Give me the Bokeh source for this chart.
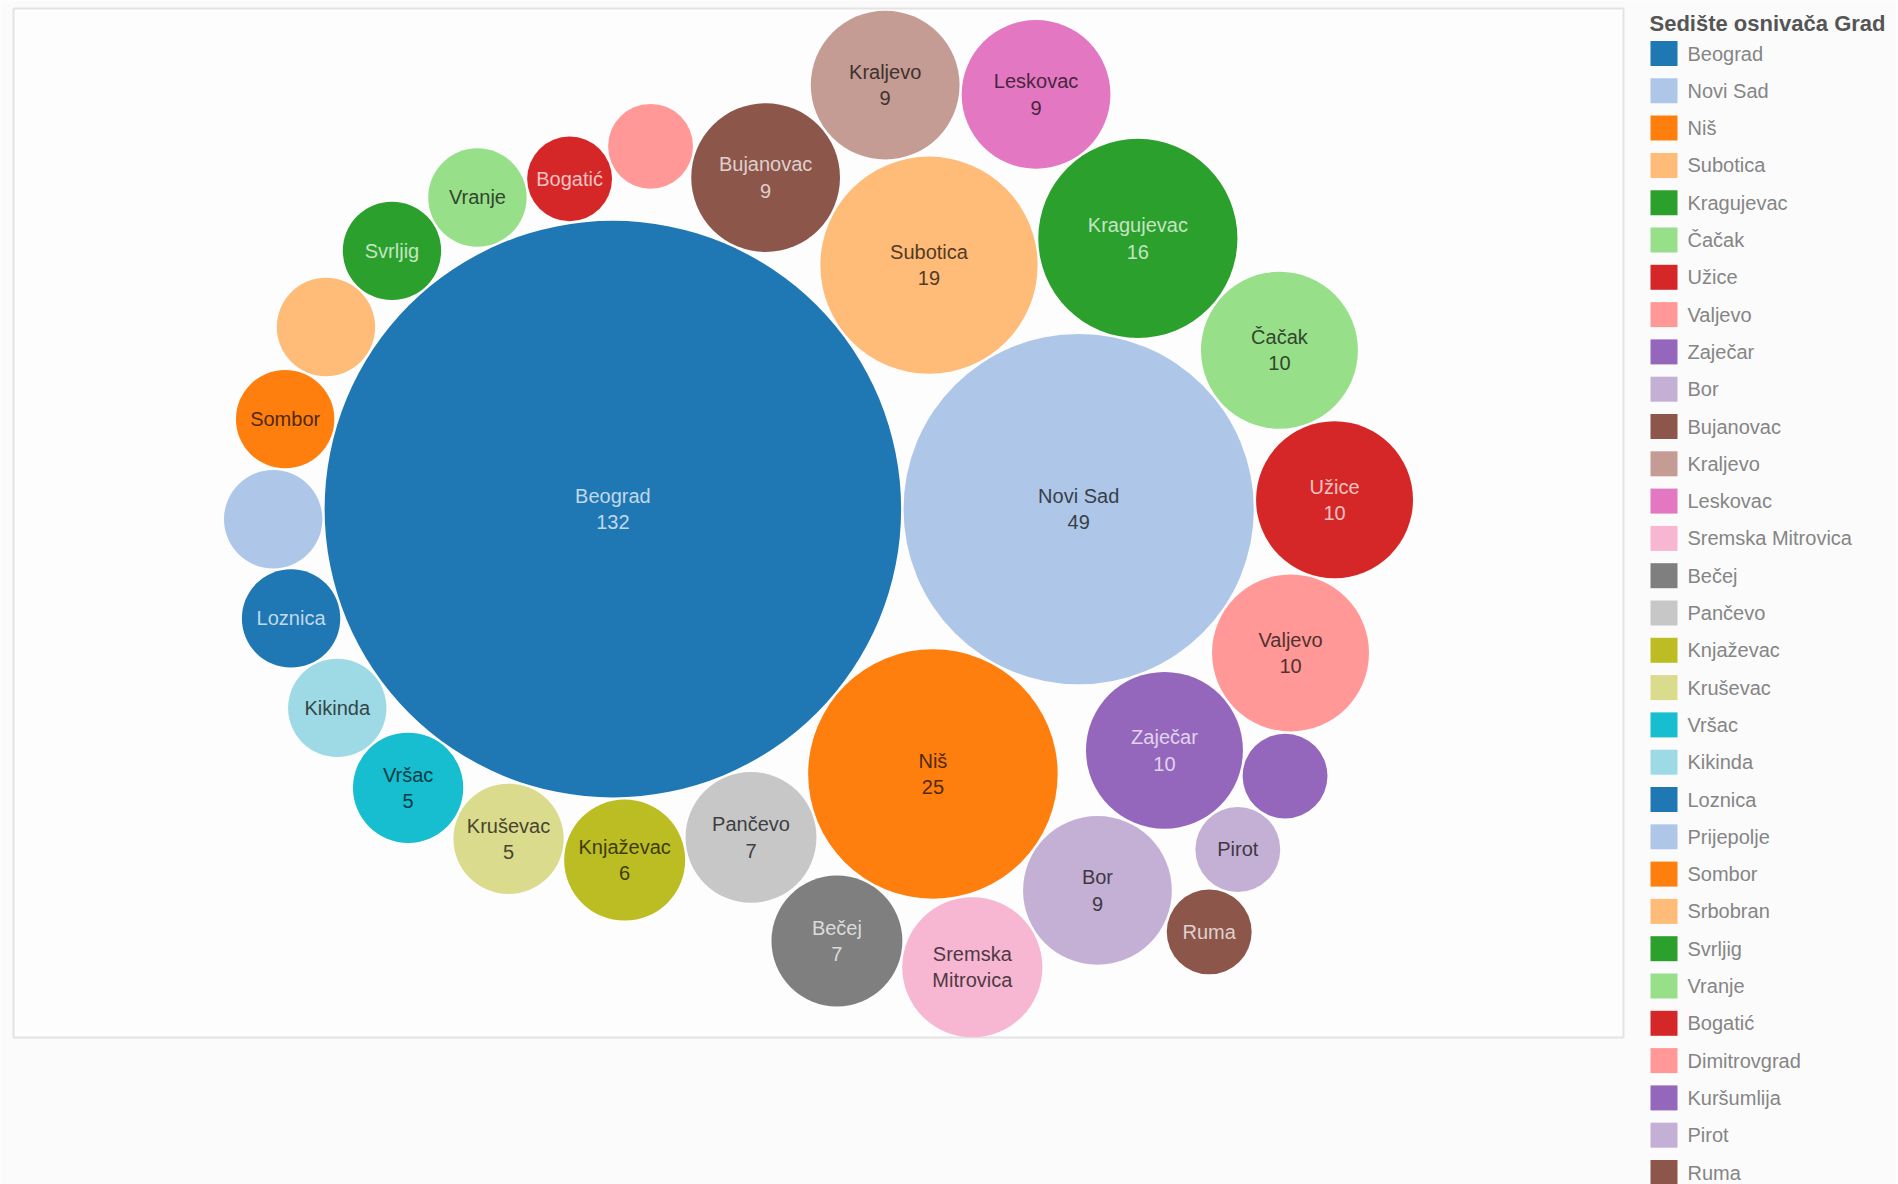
import math
from bokeh.plotting import figure
from bokeh.models import Range1d, ColumnDataSource
from bokeh.embed import file_html
from bokeh.resources import INLINE
from bokeh.core.properties import value

# ---------------- data ----------------
cities = ["Beograd", "Novi Sad", "Niš", "Subotica", "Kragujevac", "Čačak", "Užice",
          "Valjevo", "Zaječar", "Bor", "Bujanovac", "Kraljevo", "Leskovac",
          "Sremska Mitrovica", "Bečej", "Pančevo", "Knjaževac", "Kruševac", "Vršac",
          "Kikinda", "Loznica", "Prijepolje", "Sombor", "Srbobran", "Svrljig", "Vranje",
          "Bogatić", "Dimitrovgrad", "Kuršumlija", "Pirot", "Ruma"]
counts = [132, 49, 25, 19, 16, 10, 10, 10, 10, 9, 9, 9, 9, 8, 7, 7, 6, 5, 5,
          4, 4, 4, 4, 4, 4, 4, 3, 3, 3, 3, 3]
palette = ["#1f77b4", "#aec7e8", "#ff7f0e", "#ffbb78", "#2ca02c", "#98df8a",
           "#d62728", "#ff9896", "#9467bd", "#c5b0d5", "#8c564b", "#c49c94",
           "#e377c2", "#f7b6d2", "#7f7f7f", "#c7c7c7", "#bcbd22", "#dbdb8d",
           "#17becf", "#9edae5"]
# mark labels as they appear (empty = no label fits)
mark_labels = ["Beograd\n132", "Novi Sad\n49", "Niš\n25", "Subotica\n19", "Kragujevac\n16",
               "Čačak\n10", "Užice\n10", "Valjevo\n10", "Zaječar\n10", "Bor\n9",
               "Bujanovac\n9", "Kraljevo\n9", "Leskovac\n9", "Sremska\nMitrovica",
               "Bečej\n7", "Pančevo\n7", "Knjaževac\n6", "Kruševac\n5", "Vršac\n5",
               "Kikinda", "Loznica", "", "Sombor", "", "Svrljig", "Vranje",
               "Bogatić", "", "", "Pirot", "Ruma"]
legend_title = "Sedište osnivača Grad"

# ---------------- packing topology (which bubbles each bubble rests against) ----------------
# each bubble is placed tangent to two other bubbles, outside of the pair (clockwise order)
rests_on = {
    "Niš": ("Novi Sad", "Beograd"),
    "Subotica": ("Beograd", "Novi Sad"),
    "Kragujevac": ("Subotica", "Novi Sad"),
    "Čačak": ("Kragujevac", "Novi Sad"),
    "Užice": ("Čačak", "Novi Sad"),
    "Valjevo": ("Užice", "Novi Sad"),
    "Zaječar": ("Valjevo", "Novi Sad"),
    "Bor": ("Zaječar", "Niš"),
    "Bujanovac": ("Beograd", "Subotica"),
    "Kraljevo": ("Bujanovac", "Subotica"),
    "Leskovac": ("Kraljevo", "Kragujevac"),
    "Sremska Mitrovica": ("Bor", "Niš"),
    "Bečej": ("Sremska Mitrovica", "Pančevo"),
    "Pančevo": ("Niš", "Beograd"),
    "Knjaževac": ("Pančevo", "Beograd"),
    "Kruševac": ("Knjaževac", "Beograd"),
    "Vršac": ("Kruševac", "Beograd"),
    "Kikinda": ("Vršac", "Beograd"),
    "Loznica": ("Kikinda", "Beograd"),
    "Prijepolje": ("Loznica", "Beograd"),
    "Sombor": ("Prijepolje", "Beograd"),
    "Srbobran": ("Sombor", "Beograd"),
    "Svrljig": ("Srbobran", "Beograd"),
    "Vranje": ("Svrljig", "Beograd"),
    "Bogatić": ("Vranje", "Beograd"),
    "Dimitrovgrad": ("Bogatić", "Bujanovac"),
    "Kuršumlija": ("Valjevo", "Zaječar"),
    "Pirot": ("Kuršumlija", "Zaječar"),
    "Ruma": ("Pirot", "Bor"),
}

# ---------------- helpers ----------------
def hex2rgb(h):
    h = h.lstrip("#")
    return [int(h[i:i + 2], 16) for i in (0, 2, 4)]

def rgb2hex(c):
    return "#%02x%02x%02x" % tuple(max(0, min(255, int(round(v)))) for v in c)

def label_color(h):
    r, g, b = hex2rgb(h)
    lum = 0.3 * r + 0.59 * g + 0.11 * b
    if lum < 135:
        return rgb2hex([v + (255 - v) * 0.72 for v in (r, g, b)])
    return rgb2hex([v * 0.32 for v in (r, g, b)])

def place(b, a, c):
    # put circle c tangent to b and a, outside of the pair (front-chain convention)
    dx = b["x"] - a["x"]
    dy = b["y"] - a["y"]
    d2 = dx * dx + dy * dy
    a2 = (a["r"] + c["r"]) ** 2
    b2 = (b["r"] + c["r"]) ** 2
    if a2 > b2:
        x = (d2 + b2 - a2) / (2 * d2)
        y = math.sqrt(max(0.0, b2 / d2 - x * x))
        c["x"] = b["x"] - x * dx - y * dy
        c["y"] = b["y"] - x * dy + y * dx
    else:
        x = (d2 + a2 - b2) / (2 * d2)
        y = math.sqrt(max(0.0, a2 / d2 - x * x))
        c["x"] = a["x"] + x * dx - y * dy
        c["y"] = a["y"] + x * dy + y * dx

def overlapping(c, others):
    out = []
    for o in others:
        d = math.hypot(c["x"] - o["x"], c["y"] - o["y"])
        if d < c["r"] + o["r"] - 0.02:
            out.append(o)
    return out

# ---------------- layout ----------------
W, H = 1896, 1184
pane_x0, pane_x1, pane_y0, pane_y1 = 13, 1623, 8, 1037
shrink_px = 1.2          # visible white seam between touching bubbles
circ = {name: {"r": math.sqrt(v), "name": name} for name, v in zip(cities, counts)}
first, second = cities[0], cities[1]
circ[first]["x"] = -circ[second]["r"]; circ[first]["y"] = 0.0
circ[second]["x"] = circ[first]["r"]; circ[second]["y"] = 0.0
placed = [circ[first], circ[second]]
done = {first, second}
pending = list(cities[2:])
while pending:
    for name in pending:
        p1, p2 = rests_on[name]
        if p1 in done and p2 in done:
            break
    else:
        raise RuntimeError("unresolvable layout")
    c = circ[name]
    place(circ[p1], circ[p2], c)
    hits = overlapping(c, [o for o in placed if o["name"] not in (p1, p2)])
    if hits:
        x = hits[0]
        for q1, q2 in ((circ[p1], x), (x, circ[p2])):
            place(q1, q2, c)
            if not overlapping(c, [o for o in placed if o is not q1 and o is not q2]):
                break
    placed.append(c)
    done.add(name)
    pending.remove(name)

circles = [circ[n] for n in cities]
minx = min(c["x"] - c["r"] for c in circles)
maxx = max(c["x"] + c["r"] for c in circles)
miny = min(c["y"] - c["r"] for c in circles)
maxy = max(c["y"] + c["r"] for c in circles)
scale = min((pane_x1 - pane_x0 - 6) / (maxx - minx), (pane_y1 - pane_y0) / (maxy - miny))
cx0 = (pane_x0 + pane_x1) / 2.0
cy0 = (pane_y0 + pane_y1) / 2.0 + 1
mx = (minx + maxx) / 2.0
my = (miny + maxy) / 2.0

xs = [cx0 + (c["x"] - mx) * scale for c in circles]
ys = [cy0 + (c["y"] - my) * scale for c in circles]
rs = [c["r"] * scale - shrink_px for c in circles]
fills = [palette[i % len(palette)] for i in range(len(cities))]
lcolors = [label_color(f) for f in fills]

src = ColumnDataSource(dict(x=xs, y=ys, r=rs, fill=fills, lab=mark_labels,
                            lc=lcolors, city=cities, count=counts))

p = figure(width=W, height=H, x_range=Range1d(0, W), y_range=Range1d(H, 0),
           output_backend="svg", toolbar_location=None, min_border=0,
           background_fill_color="#fbfbfb", border_fill_color="#fbfbfb")
p.axis.visible = False
p.grid.visible = False
p.outline_line_color = None

# pane
p.quad(left=[pane_x0], right=[pane_x1], top=[pane_y0], bottom=[pane_y1],
       fill_color="#fdfdfd", line_color="#e3e3e3", line_width=2)

p.circle(x="x", y="y", radius="r", fill_color="fill", line_color=None, source=src)
p.text(x="x", y="y", text="lab", text_color="lc", source=src,
       text_align="center", text_baseline="middle",
       text_font=value("Liberation Sans"), text_font_size="20px",
       text_line_height=1.2)

# legend
ly0 = 53.0
step = 37.3
leg_y = [ly0 + step * i for i in range(len(cities))]
lsrc = ColumnDataSource(dict(y=leg_y, fill=fills, city=cities))
p.rect(x=1663.5, y="y", width=27, height=25, fill_color="fill", line_color=None, source=lsrc)
p.text(x=1687, y="y", text="city", source=lsrc, text_color="#858585",
       text_align="left", text_baseline="middle",
       text_font=value("Liberation Sans"), text_font_size="20px")
p.text(x=[1649], y=[23], text=[legend_title], text_color="#555555",
       text_align="left", text_baseline="middle", text_font_style="bold",
       text_font=value("Liberation Sans"), text_font_size="22px")

open("out.html", "w").write(file_html(p, INLINE))
